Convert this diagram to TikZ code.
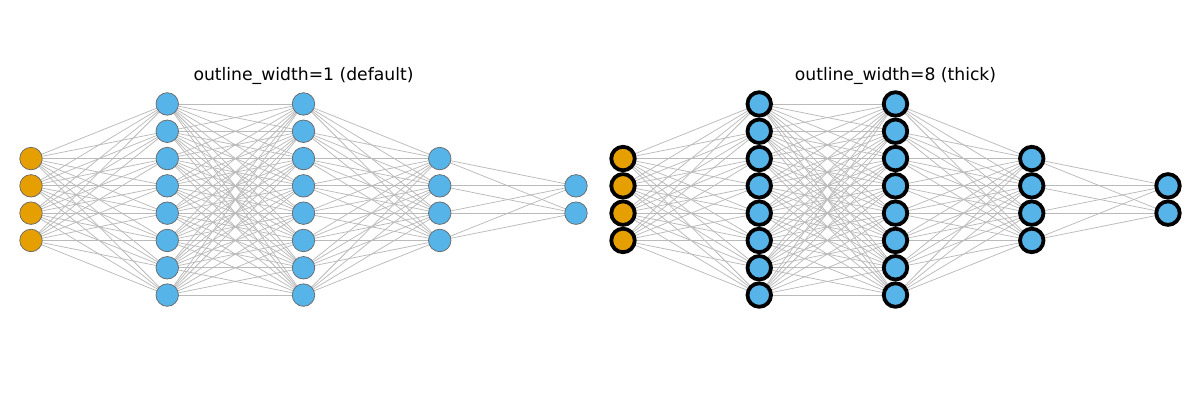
\documentclass[tikz,border=0pt]{standalone}
\usepackage{fontspec}
\setmainfont{DejaVu Sans}
\definecolor{inorange}{HTML}{E69F00}
\definecolor{hidblue}{HTML}{56B4E9}
\definecolor{edgegray}{HTML}{BABABA}
\pgfdeclarelayer{background}
\pgfsetlayers{background,main}
\tikzset{
  thinout/.style={circle,draw=black!60,line width=0.7pt,minimum size=22.5pt,inner sep=0pt},
  thickout/.style={circle,draw=black,line width=3.8pt,minimum size=23.5pt,inner sep=0pt},
  conn/.style={draw=edgegray,line width=0.75pt},
  titletext/.style={font=\fontsize{17.2}{20}\selectfont,text=black}
}
\begin{document}
\begin{tikzpicture}[x=1pt,y=-1pt]
\useasboundingbox (0,0) rectangle (1200,400);
\def\dy{27.3}
\def\cy{199.5}
\foreach \p/\ox/\sty in {1/31/thinout,2/623/thickout}{
  \foreach \l/\n in {0/4,1/8,2/8,3/4,4/2}{
    \pgfmathsetmacro{\xx}{\ox+136.25*\l}
    \foreach \j in {1,...,\n}{
      \pgfmathsetmacro{\yy}{\cy+(\j-(\n+1)/2)*\dy}
      \ifnum\l=0
        \node[\sty,fill=inorange] (n-\p-\l-\j) at (\xx,\yy) {};
      \else
        \node[\sty,fill=hidblue] (n-\p-\l-\j) at (\xx,\yy) {};
      \fi
    }
  }
}
\begin{pgfonlayer}{background}
\foreach \p in {1,2}{
  \foreach \l/\n/\m in {0/4/8,1/8/8,2/8/4,3/4/2}{
    \pgfmathtruncatemacro{\k}{\l+1}
    \foreach \a in {1,...,\n}{
      \foreach \b in {1,...,\m}{
        \draw[conn] (n-\p-\l-\a.center) -- (n-\p-\k-\b.center);
      }
    }
  }
}
\end{pgfonlayer}
\node[titletext] (t1) at (303.5,75.5) {outline\_width=1 (default)};
\node[titletext] (t2) at (895.5,75.5) {outline\_width=8 (thick)};
\end{tikzpicture}
\end{document}
